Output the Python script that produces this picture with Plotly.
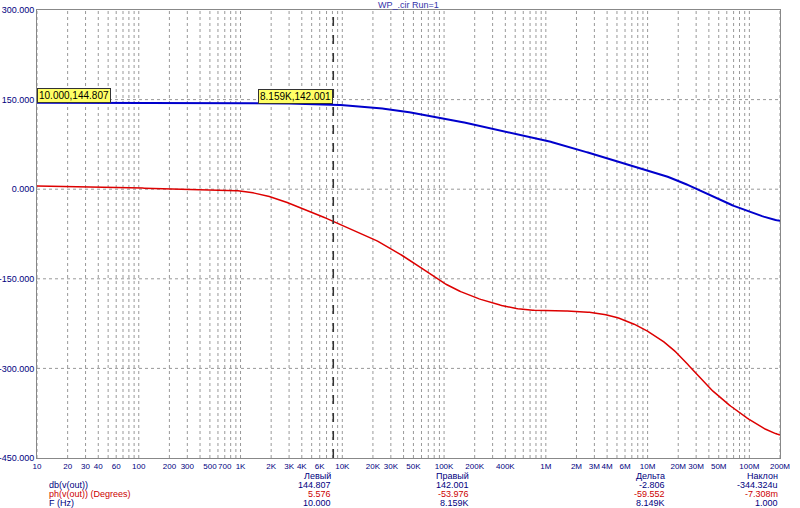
import plotly.graph_objects as go
import numpy as np

freq_db = [10, 100, 1e3, 5e3, 8159, 1e4, 3e4, 1e5, 1e6, 1e7, 2e7, 5e7, 1e8, 2e8]
db_vals = [144.807, 144.8, 144.6, 143, 142.001, 141, 134, 119, 82, 32, 15, -18, -38, -55]
freq_ph = [10, 100, 1e3, 2e3, 5e3, 8159, 2e4, 5e4, 1e5, 2e5, 5e5, 1e6, 2e6, 4e6, 6e6, 1e7, 2e7, 3e7, 5e7, 1e8, 2e8]
ph_vals = [5.576, 2, -2, -12, -38, -53.976, -82, -122, -159, -182, -201, -204, -204, -209, -219, -236, -273, -311, -348, -387, -415]

tick_vals = [10,20,30,40,60,100,200,300,500,700,1e3,2e3,3e3,4e3,6e3,1e4,2e4,3e4,5e4,1e5,2e5,4e5,1e6,2e6,3e6,4e6,6e6,1e7,2e7,3e7,5e7,1e8,2e8]
tick_text = ["10","20","30","40","60","100","200","300","500","700","1K","2K","3K","4K","6K","10K","20K","30K","50K","100K","200K","400K","1M","2M","3M","4M","6M","10M","20M","30M","50M","100M","200M"]
y_ticks = [300, 150, 0, -150, -300, -450]

FONT = "Liberation Sans"

def smooth(fx, fy, k=21):
    lx = np.log10(fx)
    xs = np.linspace(lx[0], lx[-1], 500)
    ys = np.interp(xs, lx, fy)
    ker = np.ones(k) / k
    pad = np.pad(ys, k // 2, mode='edge')
    ys = np.convolve(pad, ker, mode='valid')
    return 10 ** xs, ys

bx, by = smooth(freq_db, db_vals)
rx, ry = smooth(freq_ph, ph_vals)

fig = go.Figure()
minor = []
for d in range(1, 9):
    for m in range(1, 10):
        v = m * 10 ** d
        if 10 <= v <= 2e8:
            minor.append(v)
for v in minor:
    fig.add_shape(type="line", x0=v, x1=v, y0=-450, y1=300, line=dict(color="#999", width=1, dash="dot"), layer="below")
for v in y_ticks[1:-1]:
    fig.add_shape(type="line", x0=10, x1=2e8, y0=v, y1=v, line=dict(color="#999", width=1, dash="dot"), layer="below")
fig.add_shape(type="line", x0=8159, x1=8159, y0=-450, y1=300, line=dict(color="#333", width=1.5, dash="dash"))

fig.add_trace(go.Scatter(x=bx, y=by, mode="lines", line=dict(color="#0000cc", width=2), name="db"))
fig.add_trace(go.Scatter(x=rx, y=ry, mode="lines", line=dict(color="#dd0000", width=1.5), name="ph"))

for x, y, t in [(10, 144.807, "10.000,144.807"), (8159, 142.001, "8.159K,142.001")]:
    fig.add_annotation(x=np.log10(x), y=y, text=t, showarrow=False, xanchor="left" if x == 10 else "right",
                       yanchor="bottom", bgcolor="#ffff66", bordercolor="#333", borderwidth=1, borderpad=1,
                       font=dict(family=FONT, size=10, color="black"))

fig.add_annotation(x=0.5, y=1.0, xref="paper", yref="paper", text="WP_.cir Run=1", showarrow=False,
                   yanchor="bottom", yshift=-2, font=dict(family=FONT, size=9, color="#3333aa"))

rows = [
    ("", "Левый", "Правый", "Дельта", "Наклон", "#000080"),
    ("db(v(out))", "144.807", "142.001", "-2.806", "-344.324u", "#000080"),
    ("ph(v(out)) (Degrees)", "5.576", "-53.976", "-59.552", "-7.308m", "#cc0000"),
    ("F (Hz)", "10.000", "8.159K", "8.149K", "1.000", "#000080"),
]
offs = [18, 27, 36, 45]
cols = [333, 471, 667, 780]
for r, off in zip(rows, offs):
    if r[0]:
        fig.add_annotation(x=(47 - 37) / 743, y=0, xref="paper", yref="paper", text=r[0], showarrow=False,
                           xanchor="left", yanchor="middle", yshift=-off, font=dict(family=FONT, size=9, color=r[5]))
    for c, txt in zip(cols, r[1:5]):
        fig.add_annotation(x=(c - 37) / 743, y=0, xref="paper", yref="paper", text=txt, showarrow=False,
                           xanchor="right", yanchor="middle", yshift=-off, font=dict(family=FONT, size=9, color=r[5]))

fig.update_layout(
    width=800, height=508, margin=dict(l=37, r=20, t=10, b=50, pad=0),
    paper_bgcolor="white", plot_bgcolor="white", showlegend=False,
    xaxis=dict(type="log", range=[1, np.log10(2e8)], tickvals=tick_vals, ticktext=tick_text, showgrid=False,
               showline=True, linecolor="#888", mirror=True, ticks="", tickangle=0, automargin=False,
               tickfont=dict(family=FONT, size=8, color="#000080")),
    yaxis=dict(range=[-450, 300], tickvals=y_ticks, ticktext=[f"{v:.3f}" for v in y_ticks], showgrid=False, zeroline=False,
               showline=True, linecolor="#888", mirror=True, ticks="", automargin=False,
               tickfont=dict(family=FONT, size=9, color="#000080")),
)
fig.write_html("out.html", post_script="document.body.style.margin='0';", config={"displayModeBar": False})
